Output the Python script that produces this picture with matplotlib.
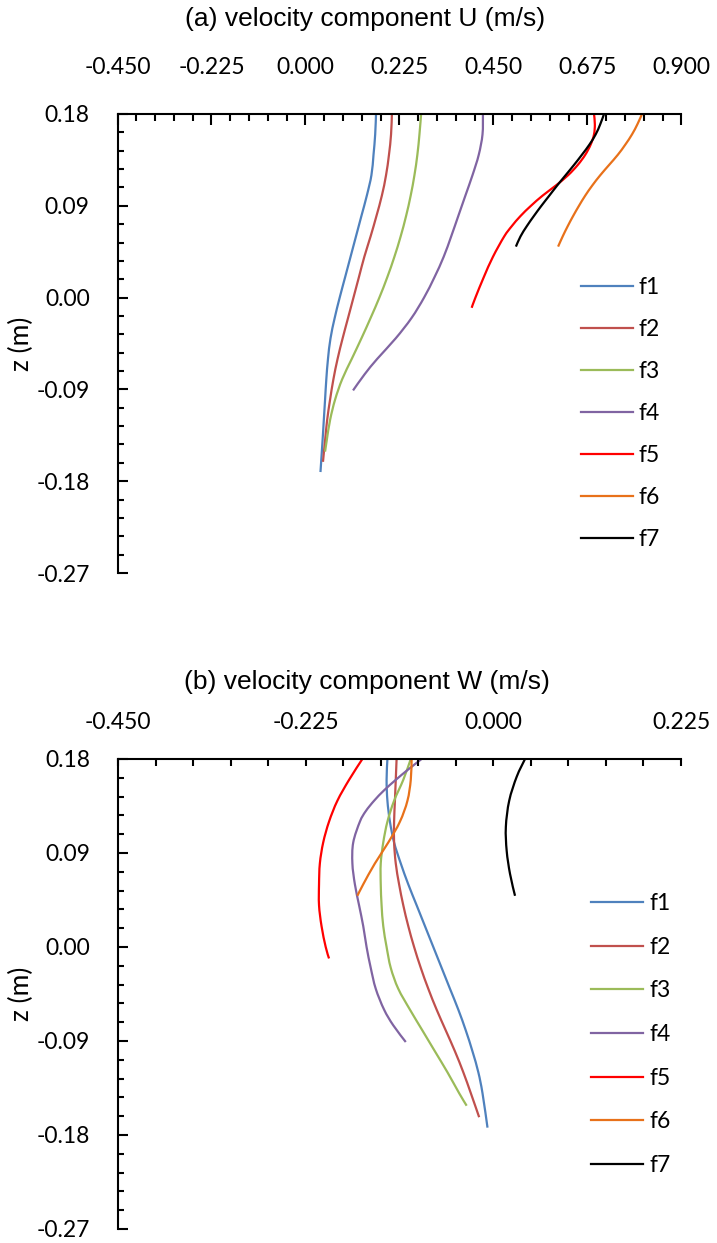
import matplotlib
matplotlib.use("Agg")
import matplotlib.pyplot as plt
from matplotlib.ticker import MultipleLocator, FuncFormatter
from matplotlib.path import Path
from matplotlib.patches import PathPatch
from matplotlib.lines import Line2D

plt.rcParams['font.family'] = ['Lato', 'DejaVu Sans']

labels = ['f1', 'f2', 'f3', 'f4', 'f5', 'f6', 'f7']
colors = ['#4F81BD', '#C0504D', '#9BBB59', '#8064A2', '#FF0000', '#E8711A', '#000000']

# ---- (a) horizontal velocity U against depth z
zU_f1 = [0.18, 0.16, 0.14, 0.12, 0.10, 0.08, 0.06, 0.04, 0.02, 0.00, -0.02, -0.04, -0.06, -0.08, -0.10, -0.12, -0.14, -0.171]
U_f1 = [0.169, 0.167, 0.163, 0.158, 0.147, 0.134, 0.121, 0.108, 0.095, 0.082, 0.070, 0.060, 0.054, 0.050, 0.047, 0.044, 0.041, 0.036]
zU_f2 = [0.18, 0.16, 0.14, 0.12, 0.10, 0.08, 0.06, 0.04, 0.02, 0.00, -0.02, -0.04, -0.06, -0.08, -0.10, -0.12, -0.14, -0.161]
U_f2 = [0.207, 0.205, 0.200, 0.193, 0.183, 0.170, 0.156, 0.141, 0.128, 0.115, 0.102, 0.089, 0.077, 0.067, 0.059, 0.052, 0.047, 0.042]
zU_f3 = [0.18, 0.16, 0.14, 0.12, 0.10, 0.08, 0.06, 0.04, 0.02, 0.00, -0.02, -0.04, -0.06, -0.08, -0.10, -0.12, -0.14, -0.151]
U_f3 = [0.277, 0.273, 0.268, 0.261, 0.252, 0.241, 0.228, 0.213, 0.196, 0.177, 0.156, 0.134, 0.111, 0.088, 0.071, 0.059, 0.051, 0.047]
zU_f4 = [0.18, 0.16, 0.14, 0.12, 0.10, 0.08, 0.06, 0.04, 0.02, 0.00, -0.02, -0.04, -0.06, -0.075, -0.091]
U_f4 = [0.425, 0.424, 0.415, 0.400, 0.383, 0.366, 0.349, 0.331, 0.309, 0.284, 0.254, 0.216, 0.172, 0.142, 0.114]
zU_f5 = [0.18, 0.17, 0.16, 0.15, 0.14, 0.13, 0.12, 0.11, 0.10, 0.09, 0.08, 0.07, 0.06, 0.04, 0.02, 0.00, -0.010]
U_f5 = [0.691, 0.693, 0.691, 0.683, 0.670, 0.652, 0.629, 0.600, 0.568, 0.540, 0.515, 0.494, 0.476, 0.449, 0.427, 0.407, 0.398]
zU_f6 = [0.18, 0.17, 0.16, 0.15, 0.14, 0.13, 0.12, 0.11, 0.10, 0.09, 0.08, 0.07, 0.06, 0.05]
U_f6 = [0.806, 0.795, 0.782, 0.766, 0.748, 0.727, 0.706, 0.687, 0.670, 0.655, 0.641, 0.628, 0.616, 0.605]
zU_f7 = [0.18, 0.17, 0.16, 0.15, 0.14, 0.13, 0.12, 0.11, 0.10, 0.09, 0.08, 0.07, 0.06, 0.05]
U_f7 = [0.715, 0.706, 0.695, 0.680, 0.662, 0.643, 0.623, 0.603, 0.584, 0.565, 0.547, 0.530, 0.515, 0.504]

# ---- (b) vertical velocity W against depth z
zW_f1 = [0.18, 0.16, 0.14, 0.12, 0.10, 0.08, 0.06, 0.04, 0.02, 0.00, -0.02, -0.04, -0.06, -0.08, -0.10, -0.12, -0.14, -0.173]
W_f1 = [-0.127, -0.128, -0.127, -0.124, -0.119, -0.111, -0.102, -0.092, -0.082, -0.072, -0.062, -0.052, -0.042, -0.033, -0.025, -0.018, -0.013, -0.007]
zW_f2 = [0.18, 0.16, 0.14, 0.12, 0.10, 0.08, 0.06, 0.04, 0.02, 0.00, -0.02, -0.04, -0.06, -0.08, -0.10, -0.12, -0.14, -0.163]
W_f2 = [-0.116, -0.117, -0.118, -0.119, -0.119, -0.117, -0.113, -0.108, -0.102, -0.095, -0.087, -0.078, -0.068, -0.057, -0.046, -0.036, -0.027, -0.017]
zW_f3 = [0.18, 0.16, 0.14, 0.12, 0.10, 0.08, 0.06, 0.04, 0.02, 0.00, -0.02, -0.04, -0.06, -0.08, -0.10, -0.12, -0.14, -0.152]
W_f3 = [-0.099, -0.108, -0.119, -0.127, -0.132, -0.135, -0.135, -0.134, -0.132, -0.128, -0.123, -0.114, -0.100, -0.085, -0.070, -0.055, -0.041, -0.032]
zW_f4 = [0.18, 0.17, 0.16, 0.15, 0.14, 0.13, 0.12, 0.10, 0.08, 0.06, 0.04, 0.02, 0.00, -0.02, -0.04, -0.06, -0.075, -0.091]
W_f4 = [-0.086, -0.102, -0.117, -0.131, -0.143, -0.153, -0.160, -0.168, -0.169, -0.166, -0.161, -0.156, -0.152, -0.147, -0.141, -0.131, -0.120, -0.105]
zW_f5 = [0.18, 0.16, 0.14, 0.12, 0.10, 0.08, 0.06, 0.04, 0.02, 0.00, -0.011]
W_f5 = [-0.157, -0.173, -0.187, -0.197, -0.204, -0.208, -0.209, -0.209, -0.206, -0.201, -0.197]
zW_f6 = [0.18, 0.16, 0.14, 0.12, 0.10, 0.08, 0.06, 0.049]
W_f6 = [-0.098, -0.099, -0.103, -0.112, -0.126, -0.142, -0.156, -0.163]
zW_f7 = [0.18, 0.163, 0.14, 0.115, 0.092, 0.07, 0.049]
W_f7 = [0.038, 0.028, 0.019, 0.015, 0.016, 0.020, 0.026]

U_z = [zU_f1, zU_f2, zU_f3, zU_f4, zU_f5, zU_f6, zU_f7]
U_vals = [U_f1, U_f2, U_f3, U_f4, U_f5, U_f6, U_f7]
W_z = [zW_f1, zW_f2, zW_f3, zW_f4, zW_f5, zW_f6, zW_f7]
W_vals = [W_f1, W_f2, W_f3, W_f4, W_f5, W_f6, W_f7]


def smooth_path(xs, ys):
    # smoothed line through the points (bezier segments, like a spreadsheet "smoothed line")
    pts = list(zip(xs, ys))
    n = len(pts)
    verts = [pts[0]]
    codes = [Path.MOVETO]
    for i in range(n - 1):
        p0 = pts[i - 1] if i > 0 else pts[i]
        p1 = pts[i]
        p2 = pts[i + 1]
        p3 = pts[i + 2] if i + 2 < n else pts[i + 1]
        c1 = (p1[0] + (p2[0] - p0[0]) / 6.0, p1[1] + (p2[1] - p0[1]) / 6.0)
        c2 = (p2[0] - (p3[0] - p1[0]) / 6.0, p2[1] - (p3[1] - p1[1]) / 6.0)
        verts += [c1, c2, p2]
        codes += [Path.CURVE4] * 3
    return Path(verts, codes)


def fmt(ndig):
    # round first so that tiny negatives do not print as -0.00
    return FuncFormatter(lambda v, p: ('{:.%df}' % ndig).format(round(v, 4) + 0.0))


def style_axis(ax, xlim, xlab_pad, xmaj):
    ax.set_xlim(*xlim)
    ax.set_ylim(-0.27, 0.18)
    ax.spines['right'].set_visible(False)
    ax.spines['bottom'].set_visible(False)
    ax.spines['top'].set_linewidth(1.5)
    ax.spines['left'].set_linewidth(1.5)
    ax.xaxis.tick_top()
    ax.xaxis.set_major_locator(MultipleLocator(0.225))
    ax.xaxis.set_minor_locator(MultipleLocator(0.045))
    ax.xaxis.set_major_formatter(fmt(3))
    ax.yaxis.set_major_locator(MultipleLocator(0.09))
    ax.yaxis.set_minor_locator(MultipleLocator(0.018))
    ax.yaxis.set_major_formatter(fmt(2))
    ax.tick_params(axis='x', which='major', direction='in', length=xmaj, width=1.5,
                   labelsize=16.5, pad=xlab_pad, top=True, bottom=False)
    ax.tick_params(axis='x', which='minor', direction='in', length=4.8, width=1.5,
                   top=True, bottom=False)
    ax.tick_params(axis='y', which='major', direction='in', length=7.0, width=1.5,
                   labelsize=16.5, pad=20)
    ax.tick_params(axis='y', which='minor', direction='in', length=4.5, width=1.5)
    ax.set_ylabel('z (m)', fontsize=19, labelpad=2)


fig = plt.figure(figsize=(7.17, 12.43), dpi=100)
axU = fig.add_axes([0.1639, 0.5390, 0.7863, 0.3693])
axW = fig.add_axes([0.1646, 0.0113, 0.7852, 0.3781])

for ax, zs, vs in [(axU, U_z, U_vals), (axW, W_z, W_vals)]:
    for z, v, c in zip(zs, vs, colors):
        ax.add_patch(PathPatch(smooth_path(v, z), fill=False, edgecolor=c,
                               lw=1.6, capstyle='butt', joinstyle='round'))

style_axis(axU, (-0.45, 0.9), 26, 8.0)
style_axis(axW, (-0.45, 0.225), 19, 4.8)

handles = [Line2D([], [], color=c, lw=1.6, label=lab) for c, lab in zip(colors, labels)]

axU.legend(handles=handles, loc='upper left', bbox_to_anchor=(581 / 717, 1 - 277 / 1243),
           bbox_transform=fig.transFigure, frameon=False, fontsize=16.5,
           handlelength=2.28, handletextpad=0.22, labelspacing=0.92,
           borderpad=0, borderaxespad=0)
axW.legend(handles=handles, loc='upper left', bbox_to_anchor=(591 / 717, 1 - 893 / 1243),
           bbox_transform=fig.transFigure, frameon=False, fontsize=16.5,
           handlelength=2.28, handletextpad=0.26, labelspacing=0.99,
           borderpad=0, borderaxespad=0)

fig.text(365 / 717, 1 - 19 / 1243, '(a) velocity component U (m/s)',
         ha='center', va='center', fontsize=19, family='Liberation Sans')
fig.text(367 / 717, 1 - 682 / 1243, '(b) velocity component W (m/s)',
         ha='center', va='center', fontsize=19, family='Liberation Sans')

fig.savefig('out.png', dpi=100)
